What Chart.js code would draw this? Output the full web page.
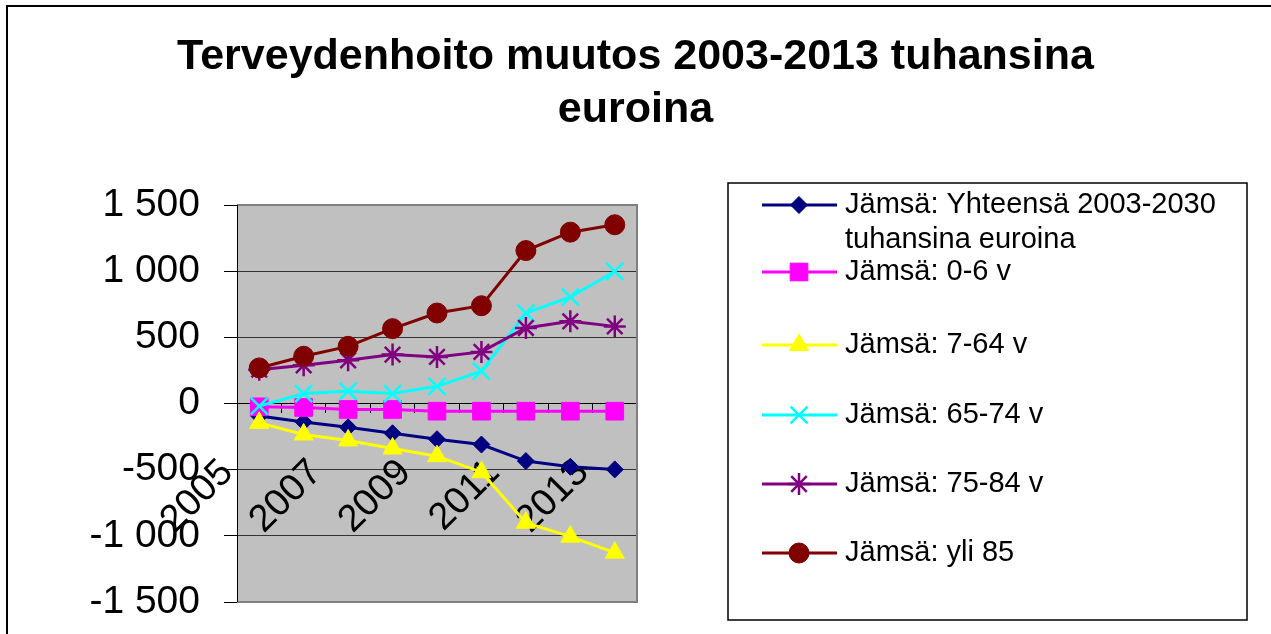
<!DOCTYPE html>
<html>
<head>
<meta charset="utf-8">
<script src="https://cdn.jsdelivr.net/npm/chart.js@4"></script>
<style>
  html, body { margin: 0; padding: 0; background: #fff; }
  #wrap { width: 1271px; height: 634px; }
</style>
</head>
<body>
<div id="wrap"><canvas id="chart" width="1271" height="634"></canvas></div>
<script>
/////////////////////////////////////////////////////////////
// DATA

const years = ["2005", "2006", "2007", "2008", "2009", "2010", "2011", "2012", "2013"];

const seriesNames = [
  "Jämsä: Yhteensä 2003-2030 tuhansina euroina",
  "Jämsä: 0-6 v",
  "Jämsä: 7-64 v",
  "Jämsä: 65-74 v",
  "Jämsä: 75-84 v",
  "Jämsä: yli 85",
];

const total = [-95, -140, -180, -225, -270, -310, -435, -478, -498];
const age0_6 = [-25, -30, -45, -45, -58, -58, -58, -58, -58];
const age7_64 = [-146, -234, -279, -340, -398, -519, -901, -1006, -1127];
const age65_74 = [-20, 75, 93, 75, 130, 244, 684, 805, 998];
const age75_84 = [256, 289, 327, 370, 352, 390, 571, 621, 583];
const age85 = [269, 357, 432, 566, 684, 739, 1156, 1295, 1351];

const yTicks = [-1500, -1000, -500, 0, 500, 1000, 1500];

/////////////////////////////////////////////////////////////
// SET UP CHART

const makeSet = function (i, data, color, style, radius, bw) {
  return {
    label: seriesNames[i],
    data: data,
    borderColor: color,
    backgroundColor: color,
    borderWidth: 3,
    pointStyle: style,
    pointRadius: radius,
    pointBorderWidth: bw,
    pointBackgroundColor: color,
    pointBorderColor: color,
    tension: 0,
    order: 10 - i,
  };
};

const datasets = [
  makeSet(0, total, "#000080", "rectRot", 8.5, 1),
  makeSet(1, age0_6, "#ff00ff", "rect", 12.5, 1),
  makeSet(2, age7_64, "#ffff00", "triangle", 11, 1),
  makeSet(3, age65_74, "#00ffff", "crossRot", 12, 2.5),
  makeSet(4, age75_84, "#800080", "star", 11, 2.5),
  makeSet(5, age85, "#800000", "circle", 10, 1),
];

// background, outer frame and plot area
const backdrop = {
  id: "backdrop",
  beforeDraw(chart) {
    const { ctx, chartArea: { left, top, right, bottom } } = chart;
    ctx.save();
    ctx.fillStyle = "#fff";
    ctx.fillRect(0, 0, chart.width, chart.height);
    ctx.strokeStyle = "#000";
    ctx.lineWidth = 2;
    ctx.beginPath();
    ctx.moveTo(7, chart.height);
    ctx.lineTo(7, 6);
    ctx.lineTo(chart.width, 6);
    ctx.stroke();
    ctx.fillStyle = "#c0c0c0";
    ctx.fillRect(left, top, right - left, bottom - top);
    ctx.restore();
  },
  beforeDatasetsDraw(chart) {
    const { ctx, chartArea: { left, top, right, bottom } } = chart;
    ctx.save();
    ctx.strokeStyle = "#808080";
    ctx.lineWidth = 2;
    ctx.beginPath();
    ctx.moveTo(left, top);
    ctx.lineTo(right, top);
    ctx.lineTo(right, bottom);
    ctx.lineTo(left, bottom);
    ctx.stroke();
    ctx.strokeStyle = "#000";
    ctx.lineWidth = 1;
    ctx.beginPath();
    ctx.moveTo(left + 0.5, top);
    ctx.lineTo(left + 0.5, bottom);
    ctx.stroke();
    ctx.restore();
  },
};

// legend box on the right, drawn from the datasets
const sideLegend = {
  id: "sideLegend",
  afterDraw(chart) {
    const ctx = chart.ctx;
    const rows = [205, 272, 345, 415, 484, 553];
    ctx.save();
    ctx.strokeStyle = "#000";
    ctx.lineWidth = 1.5;
    ctx.strokeRect(728, 183, 519, 437);
    ctx.font = "29px Arial, 'Liberation Sans', sans-serif";
    ctx.textBaseline = "middle";
    chart.data.datasets.forEach((ds, i) => {
      const y = rows[i];
      ctx.strokeStyle = ds.borderColor;
      ctx.lineWidth = ds.borderWidth;
      ctx.beginPath();
      ctx.moveTo(762, y);
      ctx.lineTo(837, y);
      ctx.stroke();
      ctx.fillStyle = ds.borderColor;
      ctx.lineWidth = ds.pointBorderWidth;
      Chart.helpers.drawPoint(
        ctx,
        { pointStyle: ds.pointStyle, radius: ds.pointRadius, borderWidth: ds.pointBorderWidth, rotation: 0 },
        799,
        y
      );
      // wrap long names
      ctx.fillStyle = "#000";
      const words = ds.label.split(" ");
      let line = "";
      let ly = y;
      words.forEach((w) => {
        const test = line ? line + " " + w : w;
        if (ctx.measureText(test).width > 385 && line) {
          ctx.fillText(line, 845, ly);
          line = w;
          ly += 35;
        } else {
          line = test;
        }
      });
      ctx.fillText(line, 845, ly);
    });
    ctx.restore();
  },
};

const config = {
  type: "line",
  data: { labels: years, datasets: datasets },
  options: {
    responsive: false,
    animation: false,
    layout: { padding: { left: 0, right: 0, top: 0, bottom: 32 } },
    scales: {
      x: {
        type: "category",
        offset: true,
        position: { y: 0 },
        grid: {
          offset: true,
          drawOnChartArea: false,
          drawTicks: true,
          tickLength: 9,
          tickColor: "#000",
        },
        border: { display: true, color: "#000", width: 1 },
        ticks: {
          autoSkip: false,
          minRotation: 45,
          maxRotation: 45,
          padding: 38,
          labelOffset: -32,
          color: "#000",
          font: { family: "Arial, 'Liberation Sans', sans-serif", size: 38 },
          callback: function (val, index) {
            return index % 2 === 0 ? years[index] : "";
          },
        },
      },
      y: {
        type: "linear",
        position: "left",
        min: yTicks[0],
        max: yTicks[yTicks.length - 1],
        afterBuildTicks(scale) {
          scale.ticks = yTicks.map((v) => ({ value: v }));
        },
        afterFit(scale) {
          scale.width = 237;
          scale.paddingTop = 0;
          scale.paddingBottom = 0;
        },
        grid: {
          color: "#333",
          lineWidth: 1,
          drawTicks: true,
          tickLength: 13,
          tickColor: "#000",
        },
        border: { display: false },
        ticks: {
          padding: 24,
          color: "#000",
          font: { family: "Arial, 'Liberation Sans', sans-serif", size: 39 },
          callback: function (val) {
            const s = Math.abs(val).toString();
            const t = s.length > 3 ? s.slice(0, s.length - 3) + " " + s.slice(-3) : s;
            return (val < 0 ? "-" : "") + t;
          },
        },
      },
      side: {
        type: "linear",
        position: "right",
        display: true,
        afterFit(scale) {
          scale.width = 634;
          scale.paddingTop = 0;
          scale.paddingBottom = 0;
        },
        grid: { display: false },
        border: { display: false },
        ticks: { display: false },
      },
    },
    plugins: {
      legend: { display: false },
      tooltip: { enabled: false },
      title: {
        display: true,
        text: ["Terveydenhoito muutos 2003-2013 tuhansina", "euroina"],
        color: "#000",
        font: { family: "Arial, 'Liberation Sans', sans-serif", size: 43, weight: "bold", lineHeight: 1.233 },
        padding: { top: 31, bottom: 68 },
      },
    },
  },
  plugins: [backdrop, sideLegend],
};

// render chart
const ctx = document.querySelector("#chart").getContext("2d");
const myLineChart = new Chart(ctx, config);
</script>
</body>
</html>
